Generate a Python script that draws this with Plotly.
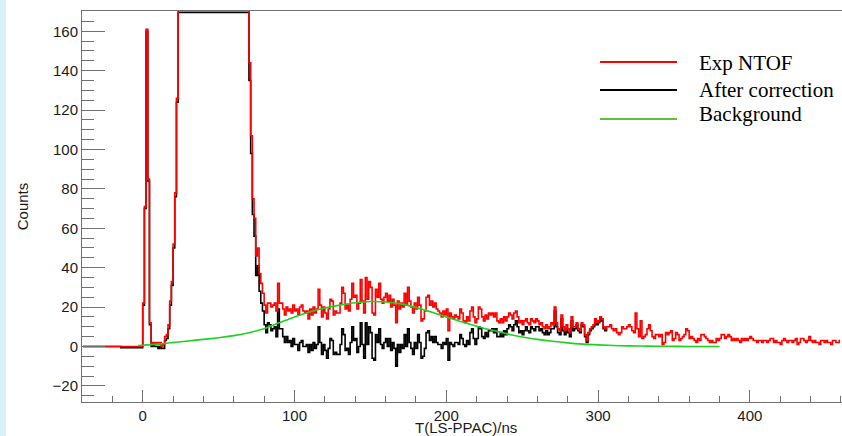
import numpy as np
import plotly.graph_objects as go

# ---------------- data ----------------
# Histogram binning: 450 bins from -40 ns to 460 ns
BIN_START_NS = -40.0
BIN_WIDTH_NS = 500.0 / 450.0

# "Exp NTOF" counts per bin (values above the frame are off-scale)
exp_ntof = [
    0, 0, 0, 0, 0, 0, 0, 0, 0, 0,
    0, 0, 0, 0, 0, 0, 0, 0, 0, 0,
    0, 0, 0, 0, 0, 0, 0, 0, 0, 0,
    0, 0, 0, 0, 0, 0,
    22, 71, 161, 85, 12,
    1, 2, 1, 2, 1, 2, 0, 1, 5,
    6, 11, 23, 33, 52, 78, 126,
    400, 400, 400, 400, 400, 400, 400, 400, 400, 400,
    400, 400, 400, 400, 400, 400, 400, 400, 400, 400,
    400, 400, 400, 400, 400, 400, 400, 400, 400, 400,
    400, 400, 400, 400, 400, 400, 400, 400, 400, 400,
    400, 400,
    144, 107, 75, 65, 46, 50, 37, 32, 27, 21,
    17, 22, 22, 20, 21, 22, 18, 32, 22, 22,
    19, 16, 20, 18, 19, 17, 21, 18, 19, 16,
    20, 21, 18,
    17, 18, 14, 19, 16, 20, 17, 19, 29, 21,
    15, 20, 17, 14, 19, 24, 23, 16, 18, 17,
    17, 22, 30, 27, 19, 21, 18, 24, 32, 25,
    26, 19, 22, 34, 23, 17, 35, 24, 33, 30,
    17, 16, 29, 25, 32, 24, 22, 25, 27, 23,
    26, 20, 24, 21, 12, 23, 19, 22, 20, 27,
    21, 30, 23, 20, 17, 22, 19, 25, 21, 13,
    14, 18, 25, 26, 21, 23, 20, 22, 19, 18,
    17, 15, 18, 16, 19, 8, 17, 15, 14, 16,
    15, 14, 19, 17, 13, 12, 15, 13, 18, 20,
    15, 12, 14, 20, 19, 15, 13, 16, 14, 17,
    16, 17, 15, 17, 13, 12, 14, 12, 15, 13,
    15, 17, 16, 14, 17, 18, 15, 12, 13, 11,
    13, 14, 12, 11, 14, 13, 12, 14, 13, 11,
    12, 10, 9, 11, 9, 10, 12, 11, 20, 12,
    9, 8, 16, 10, 8, 11, 9, 7, 15, 10,
    10, 12, 9, 8, 12, 11, 6, 3, 7, 9,
    10, 11, 14, 12, 13, 15, 14, 10, 9, 10,
    10, 11, 9, 8, 9, 7, 6, 7, 10, 9,
    9, 10, 11, 10, 8, 7, 17, 9, 5, 13,
    4, 5, 6, 9, 11, 8, 5, 4, 6, 6,
    5, 6, 1, 2, 7, 6, 7, 8, 3, 4,
    7, 6, 3, 4, 5, 6, 9, 8, 4, 5,
    4, 3, 2, 4, 3, 6, 6, 5, 4, 3,
    2, 3, 2, 2, 4, 3, 4, 6, 6, 4,
    5, 6, 5, 3, 4, 3, 4, 3, 2, 4,
    3, 4, 3, 4, 5, 4, 3, 3, 2, 3,
    3, 2, 3, 3, 2, 3, 4, 4, 2, 3,
    2, 2, 1, 3, 4, 3, 2, 3, 3, 2,
    3, 4, 1, 2, 4, 4, 3, 2, 3, 5,
    3, 2, 3, 2, 2, 1, 3, 3, 2, 3,
    2, 2, 1, 3, 3, 2, 2, 3,
]

# "After correction" counts per bin (beyond ~306 ns it coincides with Exp NTOF)
after_correction = [
    0, 0, 0, 0, 0, 0, 0, 0, 0, 0,
    0, 0, 0, 0, 0, 0, 0, 0, 0, 0,
    0, 0, 0, -0.6, -0.6, -0.6, -0.6, -0.6, -0.6, -0.6,
    -0.6, -0.6, -0.6, -0.6, -0.6, -0.6,
    21, 70, 160, 84, 11,
    0, 1, 0, 0, -1, 0, -1, -1, 3,
    4, 9, 21, 31, 50, 76, 124,
    169.6, 169.6, 169.6, 169.6, 169.6, 169.6, 169.6, 169.6, 169.6, 169.6,
    169.6, 169.6, 169.6, 169.6, 169.6, 169.6, 169.6, 169.6, 169.6, 169.6,
    169.6, 169.6, 169.6, 169.6, 169.6, 169.6, 169.6, 169.6, 169.6, 169.6,
    169.6, 169.6, 169.6, 169.6, 169.6, 169.6, 169.6, 169.6, 169.6, 169.6,
    169.6, 169.6,
    135, 98, 67, 56, 36, 41, 28, 22, 18, 11,
    7, 12, 11, 8, 9, 10, 5, 19, 9, 9,
    5, 2, 5, 2, 3, 0, 4, 1, 1, -2,
    2, 3, 0,
    0, 1, -3, 1, -2, 2, -1, 1, 10, 2,
    -4, 1, -2, -6, -1, 4, 3, -4, -3, -4,
    -4, 1, 9, 6, -2, -1, -4, 2, 10, 3,
    4, -3, 0, 12, 1, -6, 12, 1, 10, 7,
    -6, -7, 6, 2, 9, 1, -1, 2, 4, 0,
    4, -2, 2, -1, -10, 1, -3, 1, -1, 6,
    0, 9, 2, -1, -4, 2, -1, 6, 2, -6,
    -5, -1, 7, 8, 3, 5, 2, 5, 2, 1,
    1, -1, 2, 1, 4, -7, 2, 1, 0, 2,
    2, 1, 6, 4, 1, 0, 3, 1, 7, 9,
    4, 1, 4, 10, 9, 5, 4, 7, 5, 8,
    8, 9, 7, 9, 5, 5, 7, 5, 8, 6,
    9, 11, 10, 8, 11, 13, 10, 7, 8, 6,
    8, 10, 8, 7, 10, 9, 8, 10, 10, 8,
    9, 7, 6, 8, 6, 7, 9, 9, 18, 10,
    7, 6, 14, 8, 6, 9, 7, 5, 13, 8,
    9, 11, 8, 7, 11, 10, 5, 2, 6, 8,
    9, 10, 13, 11, 12, 14, 13, 9, 8, 9,
]

# "Background" curve, read at points along the time axis
background_time_ns = [-3, 0, 10, 20, 30, 40, 50, 60, 70, 80, 90, 100, 110, 120,
                      130, 140, 150, 160, 170, 180, 190, 200, 210, 220, 230,
                      240, 250, 260, 270, 280, 290, 300, 310, 320, 330, 340,
                      350, 360, 370, 380]
background_counts = [0.4, 0.6, 1.2, 2.0, 2.8, 3.6, 4.4, 5.5, 7.0, 9.0, 12.0,
                     15.0, 17.5, 19.5, 21.0, 22.2, 22.8, 22.6, 21.6, 19.8, 17.5,
                     15.0, 12.5, 10.3, 8.3, 6.4, 4.8, 3.6, 2.6, 1.8, 1.2, 0.8,
                     0.5, 0.3, 0.2, 0.1, 0.05, 0.0, 0.0, 0.0]

series_names = ["Exp NTOF", "After correction", "Background"]
x_ticks = [0, 100, 200, 300, 400]
x_title = "T(LS-PPAC)/ns"
y_title = "Counts"

# ---------------- figure ----------------
W, H = 842, 436
ML, MR, MT, MB = 82, 0, 11, 34
PW, PH = W - ML - MR, H - MT - MB


def px(xp):
    return (xp - ML) / PW


def py(yp):
    return (H - MB - yp) / PH


x_red = BIN_START_NS + (np.arange(len(exp_ntof)) + 0.5) * BIN_WIDTH_NS
x_blk = BIN_START_NS + (np.arange(len(after_correction)) + 0.5) * BIN_WIDTH_NS

RED = "#ff0000"
BLACK = "#000000"
GREEN = "#1fd01f"

fig = go.Figure()
fig.add_trace(go.Scatter(x=x_blk, y=after_correction, mode="lines",
                         line=dict(color=BLACK, width=1.6, shape="hvh"),
                         name=series_names[1], showlegend=False))
fig.add_trace(go.Scatter(x=x_red, y=exp_ntof, mode="lines",
                         line=dict(color=RED, width=1.6, shape="hvh"),
                         name=series_names[0], showlegend=False))
fig.add_trace(go.Scatter(x=background_time_ns, y=background_counts, mode="lines",
                         line=dict(color=GREEN, width=1.6, shape="spline"),
                         name=series_names[2], showlegend=False))

AX = "#707070"
tickfont = dict(family="Liberation Sans, Arial, sans-serif", size=15, color="#1a1a1a")

fig.update_layout(
    width=W, height=H,
    margin=dict(l=ML, r=MR, t=MT, b=MB),
    paper_bgcolor="white", plot_bgcolor="white",
    xaxis=dict(range=[-40, 460.7], showline=True, linecolor=AX, linewidth=1,
               mirror=True, ticks="inside", ticklen=12, tickwidth=1,
               tickcolor=AX, tickvals=x_ticks, showgrid=False, zeroline=False,
               minor=dict(ticks="inside", ticklen=6, dtick=20, tick0=0,
                          tickcolor=AX, tickwidth=1),
               tickfont=tickfont, automargin=False),
    yaxis=dict(range=[-28.2, 170.3], showline=True, linecolor=AX, linewidth=1,
               mirror=True, ticks="inside", ticklen=23, tickwidth=1,
               tickcolor=AX, dtick=20, tick0=0, showgrid=False, zeroline=False,
               minor=dict(ticks="inside", ticklen=12, dtick=5, tick0=0,
                          tickcolor=AX, tickwidth=1),
               tickfont=tickfont, automargin=False,
               title=dict(text=y_title, font=tickfont, standoff=20)),
    showlegend=False,
    hovermode=False,
)

# x-axis title, placed like the ROOT canvas (just under the tick labels)
fig.add_annotation(xref="paper", yref="paper", x=px(466), y=py(427.5),
                   xanchor="center", yanchor="middle", showarrow=False,
                   text=x_title, font=tickfont, borderpad=0)

# light-blue slide edge at the far left
fig.add_shape(type="rect", xref="paper", yref="paper",
              x0=px(0), x1=px(6), y0=py(H), y1=py(0),
              fillcolor="#dcf0fa", line=dict(width=0), layer="below")

# legend drawn in the ROOT style (line sample + serif text)
legend_rows = [(series_names[0], RED, 62, 63),
               (series_names[1], BLACK, 90, 90),
               (series_names[2], "#5fbf3f", 119, 114)]
for name, col, yl, yt in legend_rows:
    fig.add_shape(type="line", xref="paper", yref="paper",
                  x0=px(600), x1=px(677), y0=py(yl), y1=py(yl),
                  line=dict(color=col, width=2.2))
    fig.add_annotation(xref="paper", yref="paper", x=px(697), y=py(yt),
                       xanchor="left", yanchor="middle", showarrow=False,
                       text=name,
                       font=dict(family="Liberation Serif, Times New Roman, serif",
                                 size=21, color="black"))

fig.write_html("out.html",
               config={"displayModeBar": False, "staticPlot": True},
               post_script="document.body.style.margin='0px';"
                           "document.body.style.overflow='hidden';")
